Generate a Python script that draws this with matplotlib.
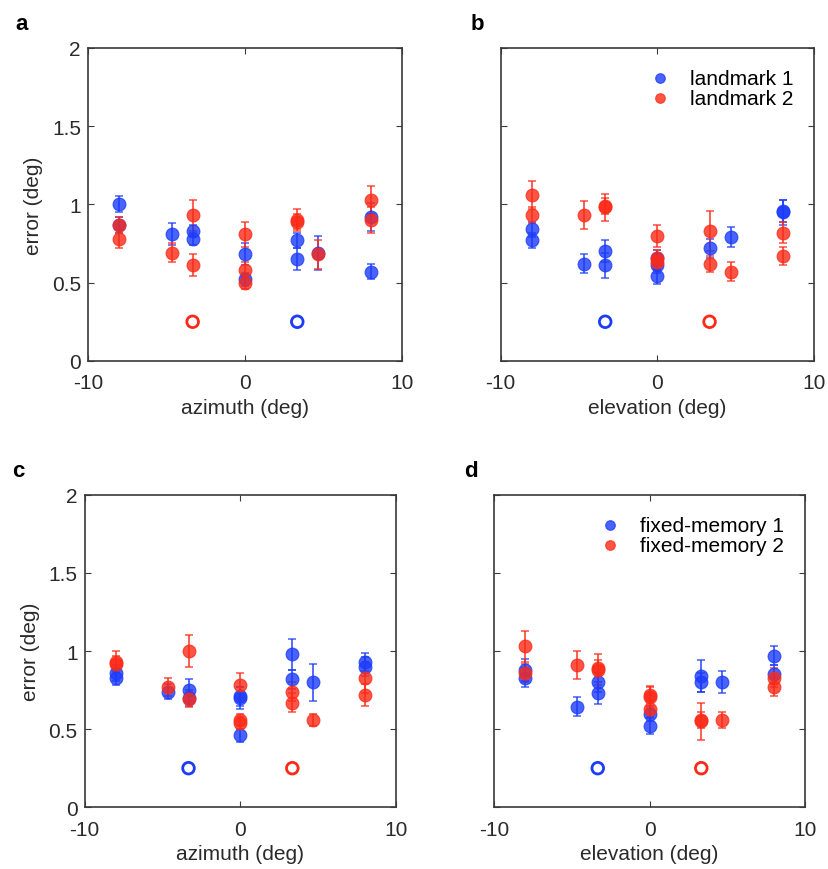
import matplotlib
matplotlib.use('Agg')
import matplotlib.pyplot as plt

# Colors
BLUE = '#1b3cfb'
RED = '#fc2a17'
AXIS = '#3a3a3a'
TEXT = '#2a2a2a'

plt.rcParams['font.family'] = ['Liberation Sans', 'DejaVu Sans']
plt.rcParams['axes.unicode_minus'] = False

# Data (error in deg vs target position in deg)
a_blue_x = [-8, -8, -4.67, -3.33, -3.33, 0, 0, 3.33, 3.33, 4.67, 8, 8]
a_blue_y = [1.00, 0.87, 0.81, 0.83, 0.78, 0.68, 0.52, 0.77, 0.65, 0.69, 0.92, 0.57]
a_blue_e = [0.05, 0.05, 0.07, 0.04, 0.04, 0.07, 0.04, 0.05, 0.07, 0.11, 0.09, 0.05]
a_red_x = [-8, -8, -4.67, -3.33, -3.33, 0, 0, 0, 3.33, 3.33, 4.67, 8, 8]
a_red_y = [0.87, 0.78, 0.69, 0.93, 0.61, 0.81, 0.58, 0.50, 0.90, 0.89, 0.68, 1.03, 0.90]
a_red_e = [0.05, 0.06, 0.06, 0.10, 0.07, 0.08, 0.05, 0.04, 0.07, 0.05, 0.09, 0.09, 0.08]
a_open_blue = (3.33, 0.25)
a_open_red = (-3.33, 0.25)

b_blue_x = [-8, -8, -4.67, -3.33, -3.33, 0, 0, 0, 3.33, 4.67, 8, 8]
b_blue_y = [0.84, 0.77, 0.62, 0.70, 0.61, 0.66, 0.61, 0.54, 0.72, 0.79, 0.96, 0.95]
b_blue_e = [0.05, 0.05, 0.06, 0.07, 0.08, 0.05, 0.05, 0.05, 0.06, 0.065, 0.07, 0.08]
b_red_x = [-8, -8, -4.67, -3.33, -3.33, 0, 0, 0, 3.33, 3.33, 4.67, 8, 8]
b_red_y = [1.06, 0.93, 0.93, 0.98, 0.99, 0.80, 0.66, 0.63, 0.83, 0.62, 0.57, 0.82, 0.67]
b_red_e = [0.09, 0.05, 0.09, 0.085, 0.05, 0.07, 0.05, 0.05, 0.13, 0.05, 0.06, 0.07, 0.06]
b_open_blue = (-3.33, 0.25)
b_open_red = (3.33, 0.25)

c_blue_x = [-8, -8, -4.67, -3.33, -3.33, 0, 0, 0, 3.33, 3.33, 4.67, 8, 8]
c_blue_y = [0.86, 0.83, 0.74, 0.75, 0.70, 0.71, 0.70, 0.46, 0.98, 0.82, 0.80, 0.93, 0.90]
c_blue_e = [0.05, 0.05, 0.05, 0.07, 0.05, 0.06, 0.07, 0.04, 0.10, 0.06, 0.12, 0.06, 0.06]
c_red_x = [-8, -8, -4.67, -3.33, -3.33, 0, 0, 0, 3.33, 3.33, 4.67, 8, 8]
c_red_y = [0.93, 0.92, 0.77, 1.00, 0.69, 0.78, 0.56, 0.54, 0.74, 0.67, 0.56, 0.83, 0.72]
c_red_e = [0.07, 0.05, 0.06, 0.10, 0.05, 0.08, 0.04, 0.04, 0.06, 0.06, 0.04, 0.10, 0.07]
c_open_blue = (-3.33, 0.25)
c_open_red = (3.33, 0.25)

d_blue_x = [-8, -8, -4.67, -3.33, -3.33, 0, 0, 3.33, 3.33, 4.67, 8, 8]
d_blue_y = [0.88, 0.83, 0.645, 0.80, 0.73, 0.60, 0.52, 0.84, 0.80, 0.80, 0.97, 0.85]
d_blue_e = [0.07, 0.06, 0.06, 0.06, 0.07, 0.05, 0.05, 0.10, 0.06, 0.07, 0.06, 0.06]
d_red_x = [-8, -8, -4.67, -3.33, -3.33, 0, 0, 0, 3.33, 3.33, 4.67, 8, 8]
d_red_y = [1.03, 0.86, 0.91, 0.89, 0.88, 0.72, 0.705, 0.63, 0.56, 0.55, 0.56, 0.83, 0.77]
d_red_e = [0.10, 0.06, 0.09, 0.05, 0.10, 0.05, 0.07, 0.05, 0.05, 0.12, 0.05, 0.06, 0.06]
d_open_blue = (-3.33, 0.25)
d_open_red = (3.33, 0.25)

panels = [
    ('a', [0.106, 0.584, 0.379, 0.360], 'azimuth (deg)', True,
     (a_blue_x, a_blue_y, a_blue_e), (a_red_x, a_red_y, a_red_e),
     a_open_blue, a_open_red, None),
    ('b', [0.604, 0.584, 0.378, 0.360], 'elevation (deg)', False,
     (b_blue_x, b_blue_y, b_blue_e), (b_red_x, b_red_y, b_red_e),
     b_open_blue, b_open_red, ('landmark 1', 'landmark 2')),
    ('c', [0.102, 0.071, 0.376, 0.359], 'azimuth (deg)', True,
     (c_blue_x, c_blue_y, c_blue_e), (c_red_x, c_red_y, c_red_e),
     c_open_blue, c_open_red, None),
    ('d', [0.596, 0.071, 0.375, 0.359], 'elevation (deg)', False,
     (d_blue_x, d_blue_y, d_blue_e), (d_red_x, d_red_y, d_red_e),
     d_open_blue, d_open_red, ('fixed-memory 1', 'fixed-memory 2')),
]

fig = plt.figure(figsize=(8.29, 8.70), dpi=100)

for letter, rect, xlab, show_y, blue, red, open_b, open_r, leg in panels:
    ax = fig.add_axes(rect)
    handles = []
    for (xs, ys, es), col in [(blue, BLUE), (red, RED)]:
        ax.errorbar(xs, ys, yerr=es, fmt='none', ecolor=col, elinewidth=1.4,
                    capsize=3, capthick=1.2, alpha=0.75, zorder=2)
        h = ax.scatter(xs, ys, s=85, color=col, alpha=0.8, edgecolors=col,
                       linewidths=0.8, zorder=3)
        handles.append(h)
    ax.scatter([open_b[0]], [open_b[1]], s=70, facecolors='none',
               edgecolors=BLUE, linewidths=2, zorder=3)
    ax.scatter([open_r[0]], [open_r[1]], s=70, facecolors='none',
               edgecolors=RED, linewidths=2, zorder=3)

    ax.set_xlim(-10, 10)
    ax.set_ylim(0, 2)
    ax.set_xticks([-10, 0, 10])
    ax.set_yticks([0, 0.5, 1, 1.5, 2])
    ax.set_yticklabels(['0', '0.5', '1', '1.5', '2'])
    ax.tick_params(direction='in', length=4, width=0.8, top=True, right=True,
                   labelsize=15, colors=AXIS, labelcolor=TEXT)
    ax.tick_params(axis='x', pad=9)
    ax.tick_params(axis='y', pad=5)
    if not show_y:
        ax.tick_params(labelleft=False)
    else:
        ax.set_ylabel('error (deg)', fontsize=15, color=TEXT, labelpad=6)
    ax.set_xlabel(xlab, fontsize=15, color=TEXT, labelpad=4)
    for sp in ax.spines.values():
        sp.set_color(AXIS)
        sp.set_linewidth(1.2)

    if leg is not None:
        ax.legend(handles, leg, loc='upper right', frameon=False, fontsize=15,
                  handletextpad=0.7, labelspacing=0.05, borderaxespad=0.6,
                  markerscale=0.75, handlelength=1.5)

    # panel letter
    bx = rect[0] - 0.087 if show_y else rect[0] - 0.036
    fig.text(bx, rect[1] + rect[3] + 0.016, letter, fontsize=16,
             fontweight='bold', color='black', va='bottom')

fig.savefig('out.png', dpi=100)
